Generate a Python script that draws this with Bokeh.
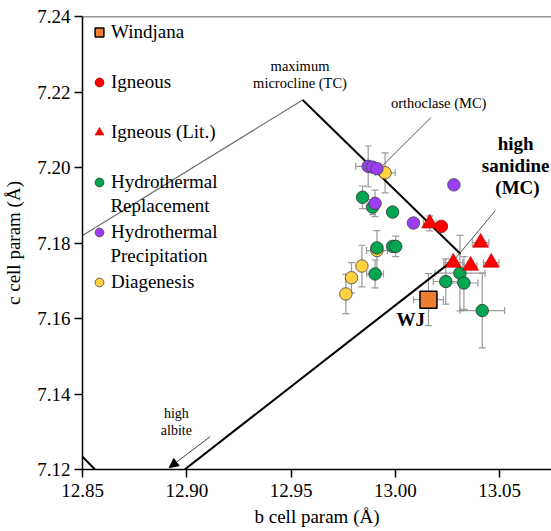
import numpy as np
from bokeh.plotting import figure
from bokeh.models import (ColumnDataSource, Whisker, TeeHead, Legend, LegendItem, Label, Span,
                          Arrow, NormalHead, FixedTicker, NumeralTickFormatter, Range1d)
from bokeh.embed import file_html
from bokeh.resources import INLINE

FONT = "Liberation Serif"

# ---------------- data ----------------
x_ticks = [12.85, 12.90, 12.95, 13.00, 13.05]
y_ticks = [7.12, 7.14, 7.16, 7.18, 7.20, 7.22, 7.24]

wj_b = [13.0159]
wj_c = [7.1650]
wj_b_err = [0.0072]
wj_c_err = [0.0069]

ign_b = [13.0221]
ign_c = [7.1844]
ign_b_err = [0.0]
ign_c_err = [0.0]

lit_b = [13.0165, 13.0409, 13.0278, 13.0361, 13.0460]
lit_c = [7.1852, 7.1801, 7.1748, 7.1740, 7.1748]
lit_b_err = [0.003, 0.004, 0.0045, 0.003, 0.0037]
lit_c_err = [0.002, 0.0, 0.0, 0.0, 0.0]

hr_b = [12.9843, 12.9891, 12.9987, 12.9912, 12.9987, 13.0002, 12.9903, 13.0310, 13.0242, 13.0329, 13.0417]
hr_c = [7.1921, 7.1895, 7.1882, 7.1787, 7.1791, 7.1791, 7.1718, 7.1720, 7.1698, 7.1694, 7.1621]
hr_b_err = [0.0, 0.0, 0.0, 0.0, 0.0, 0.0, 0.004, 0.012, 0.006, 0.0067, 0.0107]
hr_c_err = [0.003, 0.002, 0.0, 0.0, 0.0, 0.0027, 0.0037, 0.010, 0.006, 0.007, 0.0099]

hp_b = [12.9870, 12.9891, 12.9912, 12.9903, 13.0087, 13.0281]
hp_c = [7.2003, 7.2001, 7.1997, 7.1905, 7.1853, 7.1954]
hp_b_err = [0.006, 0.0, 0.0, 0.0, 0.0, 0.0]
hp_c_err = [0.0054, 0.0, 0.0, 0.0035, 0.0, 0.0]

dg_b = [12.9951, 12.9912, 12.9840, 12.9790, 12.9763]
dg_c = [7.1986, 7.1780, 7.1739, 7.1708, 7.1665]
dg_b_err = [0.0048, 0.005, 0.0, 0.0, 0.0]
dg_c_err = [0.0053, 0.0053, 0.0055, 0.004, 0.0052]

# phase-diagram boundary lines
tc_b = [12.85, 12.9556]
tc_c = [7.182, 7.2179]
mc_b = [12.9556, 13.0313]
mc_c = [7.2179, 7.1771]
ab_b = [12.899, 13.029]
ab_c = [7.12, 7.176]
corner_b = [12.85, 12.856]
corner_c = [7.1234, 7.12]
san_ptr_b = [13.029, 13.048]
san_ptr_c = [7.176, 7.1886]
orth_ptr_b = [13.017, 12.9916]
orth_ptr_c = [7.2132, 7.1992]
albite_arrow = [12.9112, 7.1287, 12.8916, 7.1205]

# ---------------- figure ----------------
p = figure(width=551, height=531, x_range=Range1d(12.85, 13.0749), y_range=Range1d(7.12, 7.24),
           output_backend="svg", toolbar_location=None,
           min_border_left=81, min_border_right=0, min_border_top=16, min_border_bottom=62)
p.outline_line_color = None
p.xgrid.visible = False
p.ygrid.visible = False
p.background_fill_color = "white"

for ax, ticks in ((p.xaxis, x_ticks), (p.yaxis, y_ticks)):
    ax.ticker = FixedTicker(ticks=ticks)
    ax.formatter = NumeralTickFormatter(format="0.00")
    ax.major_label_text_font = FONT
    ax.major_label_text_font_size = "19px"
    ax.major_label_text_color = "black"
    ax.axis_line_width = 1.5
    ax.axis_line_color = "black"
    ax.major_tick_line_width = 1.5
    ax.major_tick_line_color = "black"
    ax.major_tick_out = 8
    ax.major_tick_in = 0
    ax.minor_tick_out = 0
    ax.minor_tick_in = 0
    ax.axis_label_text_font = FONT
    ax.axis_label_text_font_size = "19px"
    ax.axis_label_text_font_style = "normal"
    ax.axis_label_text_color = "black"
p.xaxis.major_label_standoff = 6
p.yaxis.major_label_standoff = 4
p.xaxis.axis_label = "b cell param (Å)"
p.yaxis.axis_label = "c cell param (Å)"
p.xaxis.axis_label_standoff = 6
p.yaxis.axis_label_standoff = 10

p.add_layout(Span(location=7.24, dimension="width", line_color="#333333", line_width=1.5))

# boundary lines
p.line(tc_b, tc_c, line_color="#6e6e6e", line_width=1.2)
p.line(mc_b, mc_c, line_color="black", line_width=2)
p.line(ab_b, ab_c, line_color="black", line_width=2)
p.line(corner_b, corner_c, line_color="black", line_width=2)
p.line(san_ptr_b, san_ptr_c, line_color="#555555", line_width=1)
p.line(orth_ptr_b, orth_ptr_c, line_color="#555555", line_width=1)
p.add_layout(Arrow(x_start=albite_arrow[0], y_start=albite_arrow[1],
                   x_end=albite_arrow[2], y_end=albite_arrow[3],
                   line_color="#444444", line_width=1,
                   end=NormalHead(size=9, fill_color="black", line_color="black")))

# error bars
def add_err(b, c, be, ce):
    b = np.array(b); c = np.array(c); be = np.array(be); ce = np.array(ce)
    mx = be > 0
    if mx.any():
        src = ColumnDataSource(dict(base=c[mx], lo=b[mx] - be[mx], hi=b[mx] + be[mx]))
        p.add_layout(Whisker(source=src, base="base", lower="lo", upper="hi", dimension="width",
                             line_color="#9a9a9a", line_width=1.2, level="underlay",
                             lower_head=TeeHead(size=7, line_color="#9a9a9a", line_width=1.2),
                             upper_head=TeeHead(size=7, line_color="#9a9a9a", line_width=1.2)))
    my = ce > 0
    if my.any():
        src = ColumnDataSource(dict(base=b[my], lo=c[my] - ce[my], hi=c[my] + ce[my]))
        p.add_layout(Whisker(source=src, base="base", lower="lo", upper="hi", dimension="height",
                             line_color="#9a9a9a", line_width=1.2, level="underlay",
                             lower_head=TeeHead(size=7, line_color="#9a9a9a", line_width=1.2),
                             upper_head=TeeHead(size=7, line_color="#9a9a9a", line_width=1.2)))

for args in ((hr_b, hr_c, hr_b_err, hr_c_err), (hp_b, hp_c, hp_b_err, hp_c_err),
             (dg_b, dg_c, dg_b_err, dg_c_err), (lit_b, lit_c, lit_b_err, lit_c_err),
             (ign_b, ign_c, ign_b_err, ign_c_err), (wj_b, wj_c, wj_b_err, wj_c_err)):
    add_err(*args)

# markers
r_dg = p.scatter(dg_b, dg_c, marker="circle", size=12.5, fill_color="#FFD23F", line_color="#444444", line_width=0.8)
r_hr = p.scatter(hr_b, hr_c, marker="circle", size=12.5, fill_color="#00A651", line_color="#2f2f2f", line_width=0.8)
r_hp = p.scatter(hp_b, hp_c, marker="circle", size=12.5, fill_color="#9B3DF2", line_color="#444444", line_width=0.8)
r_lit = p.scatter(lit_b, lit_c, marker="triangle", size=16, fill_color="#FF0000", line_color="#B00000", line_width=0.6)
r_ign = p.scatter(ign_b, ign_c, marker="circle", size=12.5, fill_color="#FF0000", line_color="#A00000", line_width=0.8)
r_wj = p.scatter(wj_b, wj_c, marker="square", size=17, fill_color="#ED7D31", line_color="black", line_width=1.5)

legend = Legend(items=[
    LegendItem(label="Windjana", renderers=[r_wj]),
    LegendItem(label="Igneous", renderers=[r_ign]),
    LegendItem(label="Igneous (Lit.)", renderers=[r_lit]),
    LegendItem(label="Hydrothermal", renderers=[r_hr]),
    LegendItem(label="Hydrothermal", renderers=[r_hp]),
    LegendItem(label="Diagenesis", renderers=[r_dg]),
], location="top_left", padding=5, margin=0, spacing=28, glyph_height=22, glyph_width=24,
   label_standoff=0, label_height=22, label_text_font=FONT, label_text_font_size="19px",
   label_text_color="black", background_fill_alpha=0, border_line_alpha=0)
p.add_layout(legend)

# annotations
def lab(x, y, text, size="14.5px", bold=False, align="center", angle=0.0):
    p.add_layout(Label(x=x, y=y, text=text, text_font=FONT, text_font_size=size,
                       text_font_style="bold" if bold else "normal", text_align=align,
                       text_baseline="middle", text_color="black", angle=angle))

# second lines of the two-line legend entries
lab(12.8634, 7.1899, "Replacement", size="19px", align="left")
lab(12.8634, 7.1767, "Precipitation", size="19px", align="left")

lab(12.9543, 7.2270, "maximum")
lab(12.9543, 7.2223, "microcline (TC)")
lab(13.0208, 7.2170, "orthoclase (MC)")
lab(13.0577, 7.2064, "high", size="19px", bold=True)
lab(13.0577, 7.2005, "sanidine", size="19px", bold=True)
lab(13.0586, 7.1947, "(MC)", size="19px", bold=True)
lab(13.0074, 7.1597, "WJ", size="19px", bold=True)
lab(12.8950, 7.1348, "high", size="14px")
lab(12.8950, 7.1303, "albite", size="14px")

open("out.html", "w").write(file_html(p, INLINE))
